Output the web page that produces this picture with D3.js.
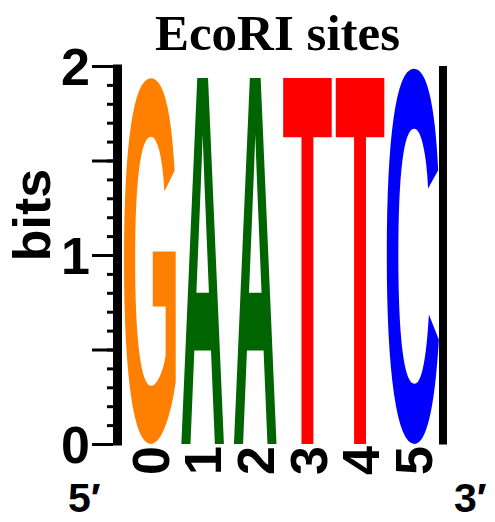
<!DOCTYPE html>
<html><head><meta charset="utf-8">
<script src="https://cdn.jsdelivr.net/npm/d3@7"></script>
<style>body{margin:0;background:#fff}</style>
</head><body>
<svg id="chart" width="495" height="522"></svg>
<script>
// ---- data ----
const positions = [0, 1, 2, 3, 4, 5];
const letters = ["G", "A", "A", "T", "T", "C"];
const heights = [1.94, 1.97, 1.97, 1.97, 1.97, 1.99];
const yMajorTicks = [0, 0.5, 1, 1.5, 2];
const yMinorTicks = d3.range(0, 21).map(i => i / 10);
const yLabelTicks = [0, 1, 2];
const titleText = "EcoRI sites";
const yAxisTitle = "bits";
const endLabels = ["5\u2032", "3\u2032"];

// ---- styles ----
const colors = { G: "#ff8000", A: "#006400", T: "#ff0000", C: "#0000ff" };
const widthFrac = { G: 0.99, A: 0.82, T: 0.94, C: 1.0 };
const SANS = "'Liberation Sans', Arial, Helvetica, sans-serif";
const SERIF = "'Liberation Serif', 'Times New Roman', serif";

const svg = d3.select("#chart");

const x = d3.scaleBand().domain(positions).range([123.7, 439.3]).padding(0);
const y = d3.scaleLinear().domain([0, 2]).range([444, 66]);

// title
svg.append("text")
  .attr("x", 277.5).attr("y", 50)
  .attr("text-anchor", "middle")
  .attr("font-family", SERIF).attr("font-weight", "bold").attr("font-size", 51)
  .text(titleText);

// letters
const ctx = document.createElement("canvas").getContext("2d");
ctx.font = "bold 100px 'Liberation Sans'";
function ink(ch) {
  const m = ctx.measureText(ch);
  return { l: -m.actualBoundingBoxLeft, r: m.actualBoundingBoxRight,
           t: -m.actualBoundingBoxAscent, b: m.actualBoundingBoxDescent };
}
const gLetters = svg.append("g");
positions.forEach((p, i) => {
  const ch = letters[i];
  const box = ink(ch);
  const bw = x.bandwidth();
  const w = bw * widthFrac[ch];
  const x0 = x(p) + (bw - w) / 2;
  const y0 = y(heights[i]), y1 = y(0);
  const sx = w / (box.r - box.l);
  const sy = (y1 - y0) / (box.b - box.t);
  gLetters.append("text")
    .attr("x", 0).attr("y", 0)
    .attr("font-family", SANS).attr("font-weight", "bold").attr("font-size", 100)
    .attr("fill", colors[ch])
    .attr("transform", `translate(${x0},${y0}) scale(${sx},${sy}) translate(${-box.l},${-box.t})`)
    .text(ch);
});

// right frame line
svg.append("rect")
  .attr("x", 439).attr("y", y(2)).attr("width", 8).attr("height", y(0) - y(2) + 0.5)
  .attr("fill", "#000");

// y axis: minor ticks
const axisX = 113;
const minorAxis = d3.axisLeft(y).tickValues(yMinorTicks).tickSize(6).tickFormat("");
const gMinor = svg.append("g").attr("transform", `translate(${axisX},0)`).call(minorAxis);
gMinor.select(".domain").remove();
gMinor.selectAll(".tick line").attr("stroke", "#000").attr("stroke-width", 3);

const majorAxis = d3.axisLeft(y).tickValues(yMajorTicks).tickSize(21).tickPadding(2)
  .tickFormat(d => yLabelTicks.includes(d) ? d3.format("d")(d) : "");
const gMajor = svg.append("g").attr("transform", `translate(${axisX},0)`).call(majorAxis);
gMajor.select(".domain").remove();
gMajor.selectAll(".tick line").attr("stroke", "#000").attr("stroke-width", 3);
gMajor.selectAll(".tick text")
  .attr("font-family", SANS).attr("font-weight", "bold").attr("font-size", 52)
  .attr("fill", "#000").attr("dy", "0.36em");

// thick axis line
svg.append("rect")
  .attr("x", axisX).attr("y", y(2) - 1.5).attr("width", 9).attr("height", y(0) - y(2) + 3)
  .attr("fill", "#000");

// y axis title
svg.append("text")
  .attr("transform", `translate(50,215) rotate(-90)`)
  .attr("text-anchor", "middle")
  .attr("font-family", SANS).attr("font-weight", "bold").attr("font-size", 52)
  .text(yAxisTitle);

// x tick labels (rotated)
svg.append("g").selectAll("text").data(positions).join("text")
  .attr("transform", d => `translate(${x(d) + x.bandwidth() / 2},446) rotate(-90)`)
  .attr("text-anchor", "end").attr("dy", "0.36em")
  .attr("font-family", SANS).attr("font-weight", "bold").attr("font-size", 52)
  .text(d => d);

// 5' and 3' labels
svg.append("text").attr("x", 68).attr("y", 512)
  .attr("font-family", SANS).attr("font-weight", "bold").attr("font-size", 41)
  .text(endLabels[0]);
svg.append("text").attr("x", 454).attr("y", 512)
  .attr("font-family", SANS).attr("font-weight", "bold").attr("font-size", 41)
  .text(endLabels[1]);
</script>
</body></html>
